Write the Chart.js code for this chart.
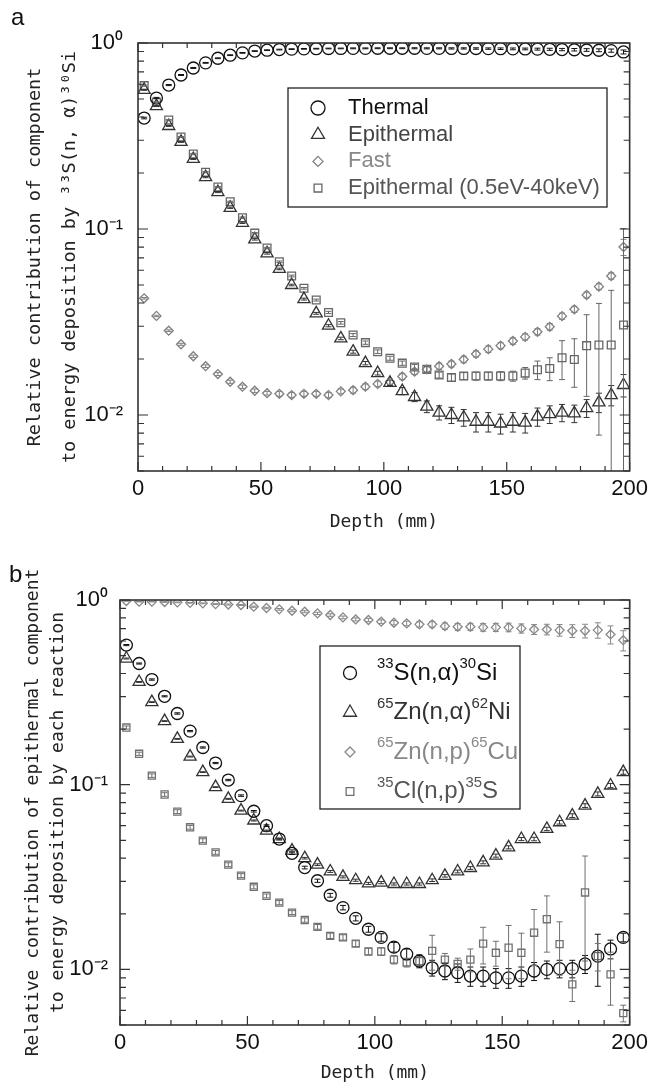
<!DOCTYPE html>
<html>
<head>
<meta charset="utf-8">
<script src="https://cdn.jsdelivr.net/npm/chart.js@4.4.0/dist/chart.umd.min.js"></script>
<style>
  body { margin: 0; background: #fff; }
  canvas { position: absolute; left: 0; }
  #panelA { top: 0; }
  #panelB { top: 545px; }
</style>
</head>
<body>
<canvas id="panelA" width="653" height="545"></canvas>
<canvas id="panelB" width="653" height="540"></canvas>
<script>
// depth bins (mm), centre of each 5 mm slab
const depth = [2.5, 7.5, 12.5, 17.5, 22.5, 27.5, 32.5, 37.5, 42.5, 47.5,
  52.5, 57.5, 62.5, 67.5, 72.5, 77.5, 82.5, 87.5, 92.5, 97.5,
  102.5, 107.5, 112.5, 117.5, 122.5, 127.5, 132.5, 137.5, 142.5, 147.5,
  152.5, 157.5, 162.5, 167.5, 172.5, 177.5, 182.5, 187.5, 192.5, 197.5];

// axis ticks
const xTicks = [0, 50, 100, 150, 200];
const yDecades = [1, 0.1, 0.01];
const yDecadeLabels = ['10⁰', '10⁻¹', '10⁻²'];
const yMinor = [0.005, 0.006, 0.007, 0.008, 0.009, 0.02, 0.03, 0.04, 0.05, 0.06, 0.07, 0.08, 0.09,
  0.2, 0.3, 0.4, 0.5, 0.6, 0.7, 0.8, 0.9];

// (a) share of 33S(n,alpha)30Si energy deposition by neutron component
const thermal = [0.395, 0.506, 0.594, 0.673, 0.734, 0.782, 0.828, 0.860, 0.885, 0.905,
  0.915, 0.922, 0.927, 0.930, 0.932, 0.934, 0.935, 0.936, 0.936, 0.937,
  0.937, 0.937, 0.937, 0.936, 0.936, 0.935, 0.935, 0.934, 0.933, 0.932,
  0.930, 0.929, 0.927, 0.925, 0.922, 0.920, 0.917, 0.914, 0.910, 0.895];
const thermalErr = [0.004, 0.004, 0.004, 0.004, 0.004, 0.004, 0.004, 0.004, 0.004, 0.004,
  0.004, 0.004, 0.004, 0.004, 0.004, 0.004, 0.004, 0.005, 0.005, 0.005,
  0.005, 0.005, 0.006, 0.006, 0.006, 0.007, 0.007, 0.008, 0.008, 0.009,
  0.010, 0.010, 0.011, 0.012, 0.013, 0.014, 0.015, 0.016, 0.018, 0.022];
const epithermal = [0.560, 0.458, 0.358, 0.294, 0.238, 0.190, 0.158, 0.130, 0.108, 0.088,
  0.074, 0.061, 0.050, 0.042, 0.0352, 0.0302, 0.0258, 0.0219, 0.0190, 0.0168,
  0.0149, 0.01345, 0.0125, 0.0111, 0.0103, 0.0100, 0.0097, 0.0092, 0.0092, 0.0090,
  0.0092, 0.0091, 0.0098, 0.0101, 0.0103, 0.0102, 0.0109, 0.0117, 0.0128, 0.0145];
const epithermalErr = [0.003, 0.0025, 0.002, 0.0018, 0.0015, 0.0013, 0.0011, 0.001, 0.0009, 0.0008,
  0.0007, 0.0006, 0.0005, 0.0005, 0.0004, 0.0004, 0.0004, 0.0004, 0.0004, 0.0004,
  0.0005, 0.0006, 0.0007, 0.0008, 0.0009, 0.0010, 0.0010, 0.0011, 0.0011, 0.0011,
  0.0011, 0.0011, 0.0011, 0.0011, 0.0011, 0.0011, 0.0012, 0.0014, 0.0016, 0.0020];
const fast = [0.0424, 0.0341, 0.0284, 0.0240, 0.0207, 0.0183, 0.0166, 0.0151, 0.0142, 0.0135,
  0.0131, 0.0130, 0.0128, 0.0130, 0.0130, 0.0128, 0.0134, 0.0136, 0.0142, 0.0147,
  0.0151, 0.0161, 0.0171, 0.0176, 0.0183, 0.0188, 0.0199, 0.0213, 0.0226, 0.0236,
  0.0250, 0.0263, 0.0280, 0.0298, 0.0340, 0.0370, 0.0442, 0.0490, 0.0559, 0.0800];
const fastErr = [0.0004, 0.0003, 0.0003, 0.0003, 0.0003, 0.0003, 0.0003, 0.0003, 0.0003, 0.0003,
  0.0003, 0.0004, 0.0004, 0.0004, 0.0004, 0.0004, 0.0004, 0.0005, 0.0005, 0.0005,
  0.0005, 0.0006, 0.0006, 0.0007, 0.0007, 0.0007, 0.0008, 0.0008, 0.0009, 0.0009,
  0.0010, 0.0010, 0.0011, 0.0012, 0.0013, 0.0014, 0.0016, 0.0018, 0.0022, 0.0080];
const epiLow = [0.590, 0.480, 0.385, 0.312, 0.253, 0.202, 0.168, 0.140, 0.115, 0.095,
  0.079, 0.0667, 0.0559, 0.048, 0.0415, 0.0356, 0.0313, 0.0269, 0.0245, 0.0219,
  0.0202, 0.0190, 0.0181, 0.0176, 0.0164, 0.0159, 0.0162, 0.0162, 0.0162, 0.0162,
  0.0162, 0.0168, 0.0175, 0.0178, 0.0203, 0.0199, 0.0236, 0.0238, 0.0238, 0.0305];
const epiLowErr = [0.004, 0.003, 0.003, 0.002, 0.002, 0.0015, 0.0013, 0.0011, 0.001, 0.0008,
  0.0007, 0.0006, 0.0006, 0.0005, 0.0005, 0.0005, 0.0005, 0.0005, 0.0005, 0.0005,
  0.0005, 0.0005, 0.0006, 0.0006, 0.0006, 0.0007, 0.0007, 0.0008, 0.0008, 0.0009,
  0.0010, 0.0012, 0.0020, 0.0025, 0.0048, 0.0058, 0.0110, 0.0160, 0.0230, 0.0700];

// (b) epithermal share of energy deposition for each reaction
const s33Si = [0.570, 0.453, 0.371, 0.301, 0.243, 0.195, 0.159, 0.131, 0.106, 0.0873,
  0.0718, 0.0600, 0.0508, 0.0425, 0.0356, 0.0302, 0.0252, 0.0216, 0.0189, 0.0165,
  0.0149, 0.0132, 0.0121, 0.0111, 0.0102, 0.0098, 0.0096, 0.0092, 0.0092, 0.0090,
  0.0090, 0.0092, 0.0098, 0.0100, 0.0101, 0.0101, 0.0107, 0.0118, 0.0129, 0.0149];
const s33SiErr = [0.004, 0.003, 0.003, 0.002, 0.002, 0.0015, 0.0012, 0.001, 0.0009, 0.0008,
  0.0007, 0.0006, 0.0006, 0.0006, 0.0006, 0.0006, 0.0006, 0.0006, 0.0006, 0.0006,
  0.0007, 0.0008, 0.0008, 0.0009, 0.0010, 0.0010, 0.0011, 0.0011, 0.0011, 0.0011,
  0.0011, 0.0011, 0.0011, 0.0011, 0.0011, 0.0011, 0.0012, 0.0037, 0.0015, 0.0008];
const zn65Ni = [0.482, 0.360, 0.280, 0.221, 0.177, 0.142, 0.117, 0.097, 0.0838, 0.0724,
  0.0640, 0.0564, 0.0508, 0.0440, 0.0400, 0.0369, 0.0339, 0.0317, 0.0304, 0.0292,
  0.0295, 0.0290, 0.0290, 0.0290, 0.0304, 0.0321, 0.0339, 0.0354, 0.0380, 0.0413,
  0.0458, 0.0508, 0.0508, 0.0576, 0.0626, 0.0680, 0.0771, 0.0892, 0.0990, 0.117];
const zn65NiErr = [0.003, 0.002, 0.0015, 0.0012, 0.001, 0.0008, 0.0006, 0.0005, 0.0005, 0.0004,
  0.0004, 0.0004, 0.0004, 0.0004, 0.0004, 0.0004, 0.0004, 0.0004, 0.0004, 0.0004,
  0.0004, 0.0004, 0.0004, 0.0004, 0.0005, 0.0005, 0.0006, 0.0006, 0.0007, 0.0008,
  0.0009, 0.0010, 0.0011, 0.0012, 0.0014, 0.0016, 0.0018, 0.0022, 0.0026, 0.0032];
const zn65Cu = [0.988, 0.979, 0.979, 0.975, 0.971, 0.965, 0.959, 0.950, 0.945, 0.939,
  0.920, 0.905, 0.890, 0.875, 0.864, 0.846, 0.829, 0.805, 0.785, 0.779,
  0.763, 0.753, 0.747, 0.738, 0.738, 0.722, 0.716, 0.716, 0.711, 0.711,
  0.711, 0.702, 0.693, 0.693, 0.687, 0.681, 0.681, 0.687, 0.651, 0.606];
const zn65CuErr = [0.003, 0.003, 0.003, 0.004, 0.004, 0.004, 0.005, 0.005, 0.006, 0.006,
  0.007, 0.008, 0.009, 0.010, 0.011, 0.012, 0.013, 0.014, 0.015, 0.016,
  0.018, 0.020, 0.022, 0.024, 0.026, 0.028, 0.030, 0.032, 0.034, 0.036,
  0.038, 0.040, 0.043, 0.046, 0.050, 0.054, 0.058, 0.066, 0.073, 0.076];
const cl35S = [0.204, 0.147, 0.112, 0.0885, 0.0715, 0.0588, 0.0498, 0.0430, 0.0369, 0.0322,
  0.0280, 0.0250, 0.0230, 0.0203, 0.0185, 0.0170, 0.0152, 0.0149, 0.0138, 0.0125,
  0.0125, 0.0113, 0.0109, 0.0111, 0.0126, 0.0113, 0.0107, 0.0113, 0.0138, 0.0123,
  0.0131, 0.0123, 0.0158, 0.0187, 0.0137, 0.0083, 0.0261, 0.0118, 0.0094, 0.0058];
const cl35SErr = [0.004, 0.003, 0.0025, 0.002, 0.0017, 0.0014, 0.0012, 0.001, 0.0009, 0.0008,
  0.0007, 0.0006, 0.0006, 0.0005, 0.0005, 0.0005, 0.0005, 0.0005, 0.0005, 0.0005,
  0.0006, 0.0006, 0.0006, 0.0006, 0.0027, 0.0009, 0.0008, 0.0016, 0.0031, 0.0019,
  0.0042, 0.0034, 0.0053, 0.0063, 0.0044, 0.0016, 0.0150, 0.0020, 0.0030, 0.0006];

const MONO = '"DejaVu Sans Mono", "Liberation Mono", monospace';
const SANS = '"Liberation Sans", Arial, sans-serif';
const NARROW = '"Liberation Sans Narrow", "Liberation Sans", Arial, sans-serif';
const SUP = '⁰¹²³⁴⁵⁶⁷⁸⁹';

// text with superscript digits drawn smaller and raised
function drawRich(ctx, text, x, y, size, family) {
  ctx.textBaseline = 'middle';
  ctx.textAlign = 'left';
  const runs = text.match(/[⁰¹²³⁴⁵⁶⁷⁸⁹]+|[^⁰¹²³⁴⁵⁶⁷⁸⁹]+/g);
  runs.forEach(r => {
    const sup = SUP.includes(r[0]);
    const str = sup ? [...r].map(c => SUP.indexOf(c)).join('') : r;
    ctx.font = (sup ? size * 0.62 : size) + 'px ' + family;
    ctx.fillText(str, x, sup ? y - size * 0.36 : y);
    x += ctx.measureText(str).width;
  });
}

// vertical error bars with short caps
const errorBars = {
  id: 'errorBars',
  afterDatasetsDraw(chart) {
    const {ctx, chartArea: a, scales: {x: xs, y: ys}} = chart;
    ctx.save();
    ctx.beginPath();
    ctx.rect(a.left, a.top, a.right - a.left, a.bottom - a.top);
    ctx.clip();
    chart.data.datasets.forEach(ds => {
      ctx.strokeStyle = ds.borderColor;
      ctx.lineWidth = 1;
      ds.data.forEach((p, i) => {
        const e = ds.errors[i];
        const px = xs.getPixelForValue(p.x);
        const top = ys.getPixelForValue(p.y + e);
        const low = p.y - e;
        const bottom = low > 0 ? ys.getPixelForValue(low) : a.bottom + 5;
        ctx.beginPath();
        ctx.moveTo(px, top);
        ctx.lineTo(px, bottom);
        ctx.moveTo(px - 3, top);
        ctx.lineTo(px + 3, top);
        if (low > 0) {
          ctx.moveTo(px - 3, bottom);
          ctx.lineTo(px + 3, bottom);
        }
        ctx.stroke();
      });
    });
    ctx.restore();
  }
};

// box frame, inward ticks on all four sides and panel letter
const frame = {
  id: 'frame',
  afterDraw(chart, args, o) {
    const {ctx, chartArea: a, scales: {x: xs, y: ys}} = chart;
    ctx.save();
    ctx.strokeStyle = '#333';
    ctx.lineWidth = 1.2;
    ctx.beginPath();
    for (let v = 0; v <= 200; v += 10) {
      const px = xs.getPixelForValue(v);
      const len = xTicks.includes(v) ? 9 : 5;
      ctx.moveTo(px, a.bottom);
      ctx.lineTo(px, a.bottom - len);
      ctx.moveTo(px, a.top);
      ctx.lineTo(px, a.top + len);
    }
    ys.ticks.forEach(t => {
      const py = ys.getPixelForValue(t.value);
      const len = yDecades.includes(t.value) ? 10 : 6;
      ctx.moveTo(a.left, py);
      ctx.lineTo(a.left + len, py);
      ctx.moveTo(a.right, py);
      ctx.lineTo(a.right - len, py);
    });
    ctx.stroke();
    ctx.lineWidth = 1.6;
    ctx.strokeRect(a.left, a.top, a.right - a.left, a.bottom - a.top);
    ctx.fillStyle = '#111';
    ctx.font = '24px ' + SANS;
    ctx.textBaseline = 'alphabetic';
    ctx.fillText(o.tag, o.tagX, o.tagY);
    ctx.restore();
  }
};

// legend box placed inside the plot
const boxLegend = {
  id: 'boxLegend',
  afterDraw(chart, args, o) {
    const ctx = chart.ctx;
    ctx.save();
    ctx.strokeStyle = '#222';
    ctx.lineWidth = 1.3;
    ctx.strokeRect(o.left, o.top, o.width, o.height);
    chart.data.datasets.forEach((ds, i) => {
      const y = o.firstRow + i * o.rowGap;
      ctx.strokeStyle = ds.borderColor;
      ctx.fillStyle = 'rgba(0,0,0,0)';
      Chart.helpers.drawPoint(ctx, {pointStyle: ds.pointStyle, radius: ds.legendRadius, borderWidth: 1.2, rotation: 0}, o.symbolX, y);
      ctx.fillStyle = ds.textColor;
      drawRich(ctx, ds.label, o.textX, y, o.fontSize, SANS);
    });
    ctx.restore();
  }
};

function makeChart(id, cfg) {
  const H = document.getElementById(id).height;
  return new Chart(document.getElementById(id), {
    type: 'scatter',
    data: {
      datasets: cfg.series.map(s => ({
        label: s.label,
        data: depth.map((x, i) => ({x: x, y: s.values[i]})),
        errors: s.errors,
        pointStyle: s.style,
        pointRadius: s.radius,
        pointHoverRadius: s.radius,
        legendRadius: s.legendRadius,
        borderColor: s.color,
        backgroundColor: 'rgba(0,0,0,0)',
        borderWidth: 1.3,
        textColor: s.textColor,
        showLine: false
      }))
    },
    options: {
      responsive: false,
      animation: false,
      layout: { padding: { top: cfg.area.top, right: 653 - cfg.area.right, left: 0, bottom: 0 } },
      plugins: {
        legend: { display: false },
        tooltip: { enabled: false },
        frame: cfg.frame,
        boxLegend: cfg.legend
      },
      scales: {
        x: {
          type: 'linear',
          min: 0,
          max: 200,
          afterFit: s => { s.height = H - cfg.area.bottom; },
          afterBuildTicks: s => { s.ticks = xTicks.map(v => ({value: v})); },
          grid: { display: false, drawTicks: false },
          border: { display: false },
          ticks: { color: '#111', padding: 5, font: { family: NARROW, size: 22 } },
          title: {
            display: true,
            text: 'Depth (mm)',
            color: '#222',
            font: { family: MONO, size: 18 },
            padding: { top: 0, bottom: cfg.xTitlePad }
          }
        },
        y: {
          type: 'logarithmic',
          min: 0.005,
          max: 1,
          afterFit: s => { s.width = cfg.area.left; },
          afterBuildTicks: s => {
            s.ticks = yDecades.concat(yMinor).sort((p, q) => p - q).map(v => ({value: v}));
          },
          grid: { display: false, drawTicks: false },
          border: { display: false },
          ticks: {
            autoSkip: false,
            color: '#111',
            padding: cfg.yTickPad,
            font: { family: NARROW, size: 22 },
            callback: v => {
              const k = yDecades.indexOf(v);
              return k >= 0 ? yDecadeLabels[k] : '';
            }
          },
          title: {
            display: true,
            text: cfg.yTitle,
            color: '#222',
            font: { family: MONO, size: cfg.yTitleSize, lineHeight: cfg.yTitleLine / cfg.yTitleSize },
            padding: { top: cfg.yTitlePad, bottom: 0 }
          }
        }
      }
    },
    plugins: [errorBars, frame, boxLegend]
  });
}

makeChart('panelA', {
  area: { left: 138, top: 43, right: 633, bottom: 471 },
  xTitlePad: 12,
  yTickPad: 15,
  yTitle: ['Relative contribution of component', 'to energy deposition by ³³S(n, α)³⁰Si'],
  yTitleSize: 18.5,
  yTitleLine: 35,
  yTitlePad: 17.5,
  frame: { tag: 'a', tagX: 11, tagY: 25 },
  legend: { left: 288, top: 88, width: 319, height: 119, firstRow: 108, rowGap: 26.7, symbolX: 318, textX: 348, fontSize: 22 },
  series: [
    { label: 'Thermal', values: thermal, errors: thermalErr, style: 'circle', radius: 6, legendRadius: 7, color: '#111', textColor: '#111' },
    { label: 'Epithermal', values: epithermal, errors: epithermalErr, style: 'triangle', radius: 7, legendRadius: 7.5, color: '#333', textColor: '#444' },
    { label: 'Fast', values: fast, errors: fastErr, style: 'rectRot', radius: 4.5, legendRadius: 5, color: '#808080', textColor: '#888' },
    { label: 'Epithermal (0.5eV-40keV)', values: epiLow, errors: epiLowErr, style: 'rect', radius: 5.5, legendRadius: 5.5, color: '#666', textColor: '#555' }
  ]
});

makeChart('panelB', {
  area: { left: 120, top: 55, right: 637, bottom: 480 },
  xTitlePad: 1,
  yTickPad: 12,
  yTitle: ['Relative contribution of epithermal component', 'to energy deposition by each reaction'],
  yTitleSize: 18,
  yTitleLine: 25,
  yTitlePad: 20.5,
  frame: { tag: 'b', tagX: 9, tagY: 37 },
  legend: { left: 320, top: 101, width: 200, height: 163, firstRow: 128, rowGap: 39.5, symbolX: 350, textX: 377, fontSize: 24 },
  series: [
    { label: '³³S(n,α)³⁰Si', values: s33Si, errors: s33SiErr, style: 'circle', radius: 6, legendRadius: 6.5, color: '#111', textColor: '#111' },
    { label: '⁶⁵Zn(n,α)⁶²Ni', values: zn65Ni, errors: zn65NiErr, style: 'triangle', radius: 7, legendRadius: 7.5, color: '#333', textColor: '#333' },
    { label: '⁶⁵Zn(n,p)⁶⁵Cu', values: zn65Cu, errors: zn65CuErr, style: 'rectRot', radius: 4.5, legendRadius: 5, color: '#888', textColor: '#888' },
    { label: '³⁵Cl(n,p)³⁵S', values: cl35S, errors: cl35SErr, style: 'rect', radius: 5, legendRadius: 5.5, color: '#707070', textColor: '#555' }
  ]
});
</script>
</body>
</html>
